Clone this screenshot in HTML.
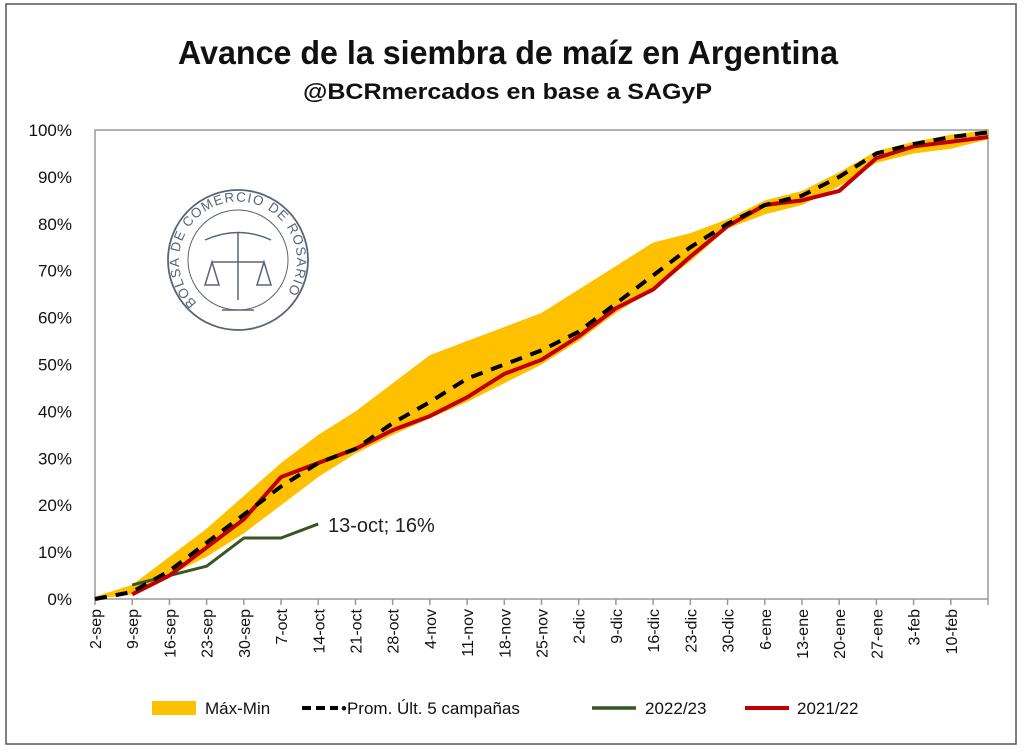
<!DOCTYPE html>
<html><head><meta charset="utf-8"><style>
body{margin:0;background:#fff;font-family:"Liberation Sans",sans-serif}
</style></head><body>
<svg width="1024" height="750" xmlns="http://www.w3.org/2000/svg" id="chart">
<rect x="6" y="4" width="1010" height="740" fill="#fff" stroke="#555" stroke-width="1.5"/>
<text x="178" y="64" font-size="33" font-weight="bold" fill="#111" textLength="660" lengthAdjust="spacingAndGlyphs">Avance de la siembra de maíz en Argentina</text>
<text x="303" y="99" font-size="22" font-weight="bold" fill="#111" textLength="409" lengthAdjust="spacingAndGlyphs">@BCRmercados en base a SAGyP</text>
<g stroke="#5a6478" fill="none">
<circle cx="238" cy="260" r="70" stroke-width="1.8"/>
<circle cx="238" cy="260" r="50" stroke-width="1"/>
<path id="arc" d="M197,303 A59,59 0 1,1 279,303" fill="none" stroke="none"/>
<text font-size="13.5" fill="#5a6478" stroke="none" letter-spacing="1.2"><textPath href="#arc">BOLSA DE COMERCIO DE ROSARIO</textPath></text>
<path d="M205,240 Q238,225 271,240 M212,262 L264,262 M238,232 L238,300 M212,262 L205,285 L219,285 Z M264,262 L257,285 L271,285 Z M222,310 L254,310" stroke-width="1.5"/>
</g>
<g id="axes"></g>
<g id="marks"></g>
<text x="328" y="532" font-size="20" fill="#222">13-oct; 16%</text>
<g font-size="17" fill="#111">
<g><rect x="152" y="701" width="44" height="14" fill="#ffc000"/><text x="205" y="714">Máx-Min</text></g>
<g><line x1="302" y1="708" x2="338" y2="708" stroke="#000" stroke-width="4" stroke-dasharray="9,5"/><text x="341" y="714">•Prom. Últ. 5 campañas</text></g>
<g><line x1="592" y1="708" x2="636" y2="708" stroke="#375623" stroke-width="3.5"/><text x="645" y="714">2022/23</text></g>
<g><line x1="745" y1="708" x2="789" y2="708" stroke="#c00000" stroke-width="4"/><text x="797" y="714">2021/22</text></g>
</g>
</svg>
<script>
const categories=["2-sep","9-sep","16-sep","23-sep","30-sep","7-oct","14-oct","21-oct","28-oct","4-nov","11-nov","18-nov","25-nov","2-dic","9-dic","16-dic","23-dic","30-dic","6-ene","13-ene","20-ene","27-ene","3-feb","10-feb",""];
const maxVals=[0.5,3,9,15,22,29,35,40,46,52,55,58,61,66,71,76,78,81,85,87,91,95.5,97.5,99,100];
const minVals=[0,1,5,9,14,20,26,31,35,38.5,42,46,50,55,61,66,72,79,82,84,88,93,95,96,98];
const avgVals=[0,1.5,6,12,18,24,29,32,37.5,42,47,50,53,57,63,69,75,80,84,86,90,95,97,98.5,99.5];
const red2122=[null,1,5,11,17,26,29,32,36,39,43,48,51,56,62,66,73,79.5,84,85,87,94,96.5,97.5,98.5];
const green2223=[null,3,5,7,13,13,16];
const yTicks=[0,10,20,30,40,50,60,70,80,90,100];
const NS="http://www.w3.org/2000/svg";
const X0=95,X1=988,Y0=599,Y1=130;
const xs=i=>X0+i*(X1-X0)/(categories.length-1);
const ys=v=>Y0-v*(Y0-Y1)/100;
function mk(tag,attrs,parent){const e=document.createElementNS(NS,tag);for(const k in attrs)e.setAttribute(k,attrs[k]);parent.appendChild(e);return e;}
const axes=document.getElementById('axes'),marks=document.getElementById('marks');
const frame=mk('rect',{x:X0,y:Y1,width:X1-X0,height:Y0-Y1,fill:'none',stroke:'#999','stroke-width':1.5},axes);


yTicks.forEach(t=>{
 const l=mk('text',{x:72,y:ys(t)+6,'text-anchor':'end','font-size':17,fill:'#111'},axes);
 l.textContent=t+'%';
 
 
});
categories.forEach((c,i)=>{
 const tk=mk('line',{x1:xs(i),y1:Y0,x2:xs(i),y2:Y0+6,stroke:'#999','stroke-width':1.5},axes);
 
 
 if(!c)return;
 const l=mk('text',{x:0,y:0,'text-anchor':'end','font-size':16,fill:'#111',transform:`translate(${xs(i)+6},${Y0+10}) rotate(-90)`},axes);
 l.textContent=c;
 
 
});
let d='';maxVals.forEach((v,i)=>d+=(i?'L':'M')+xs(i)+','+ys(v));
for(let i=minVals.length-1;i>=0;i--)d+='L'+xs(i)+','+ys(minVals[i]);
const band=mk('path',{d:d+'Z',fill:'#ffc000'},marks);


function line(vals,attrs,name){
 let p='';vals.forEach((v,i)=>{if(v==null)return;p+=(p?'L':'M')+xs(i)+','+ys(v);});
 const e=mk('path',Object.assign({d:p,fill:'none','stroke-linejoin':'round'},attrs),marks);
 
 
}
line(green2223,{stroke:'#375623','stroke-width':3},'line-2022-23');
line(red2122,{stroke:'#c00000','stroke-width':4},'line-2021-22');
line(avgVals,{stroke:'#000','stroke-width':4,'stroke-dasharray':'12,9'},'line-average');
</script>
</body></html>
